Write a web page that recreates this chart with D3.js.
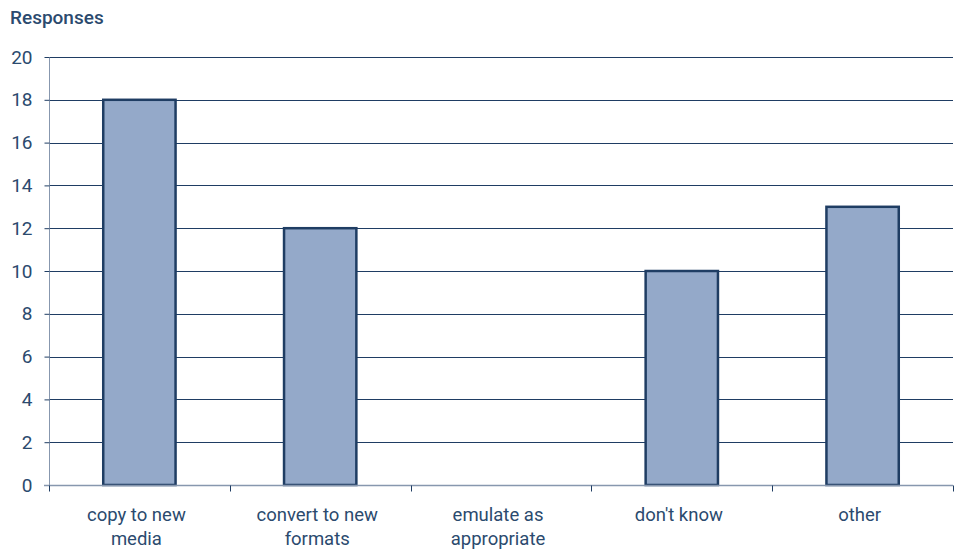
<!DOCTYPE html>
<html><head><meta charset="utf-8">
<script src="https://cdn.jsdelivr.net/npm/d3@7"></script>
<style>body{margin:0;background:#fff}text{font-family:Roboto,"Open Sans",sans-serif}</style>
</head><body>
<svg id="c" width="963" height="549"></svg>
<script>
const categories = [["copy to new","media"],["convert to new","formats"],["emulate as","appropriate"],["don't know"],["other"]];
const values = [18, 12, 0, 10, 13];
const yTicks = [0,2,4,6,8,10,12,14,16,18,20];

const svg = d3.select("#c");
const m = {left:49, right:953, top:57, bottom:485};
const keys = categories.map(c => c.join(" "));
const x = d3.scaleBand().domain(keys).range([m.left, m.right]).paddingInner(0.6).paddingOuter(0.3);
const xb = d3.scaleBand().domain(keys).range([m.left, m.right]).padding(0);
const y = d3.scaleLinear().domain([0,20]).range([m.bottom, m.top]);
const navy = "#1f3d63", grey = "#8797ae", txt = "#2b4a6e";

// gridlines
svg.append("g").selectAll("line").data(yTicks.filter(d=>d>0)).join("line")
  .attr("x1", m.left).attr("x2", m.right)
  .attr("y1", d=>Math.round(y(d))+0.5).attr("y2", d=>Math.round(y(d))+0.5)
  .attr("stroke", navy).attr("stroke-width", 1);

// y axis
const ya = svg.append("g").attr("transform", `translate(${m.left+0.5},0)`)
  .call(d3.axisLeft(y).tickValues(yTicks).tickSize(5).tickPadding(12));
ya.select(".domain").attr("stroke", grey).attr("d", `M0,${m.bottom}V${m.top}`);
ya.selectAll(".tick line").attr("stroke", navy);
ya.selectAll(".tick text").attr("fill", txt).style("font-size","19px").style("font-family","Roboto, sans-serif").style("font-weight","400");

// bars
svg.append("g").selectAll("rect").data(values).join("rect")
  .attr("x", (d,i)=>x(keys[i])).attr("width", x.bandwidth())
  .attr("y", d=>y(d)).attr("height", d=>y(0)-y(d))
  .attr("fill", "#94a9c9").attr("stroke", navy).attr("stroke-width", 2.5)
  .attr("display", d=>d>0?null:"none");

// x axis
const xa = svg.append("g").attr("transform", `translate(0,${m.bottom+0.5})`);
xa.append("line").attr("x1", m.left-5).attr("x2", m.right).attr("stroke", grey).attr("stroke-width",1.5);
const bounds = keys.map(k=>xb(k)).concat([m.right]);
xa.selectAll("line.t").data(bounds).join("line").attr("class","t")
  .attr("x1", d=>Math.round(d)+0.5).attr("x2", d=>Math.round(d)+0.5).attr("y1",0).attr("y2",6).attr("stroke", navy);
const lab = xa.selectAll("text").data(categories).join("text")
  .attr("text-anchor","middle").attr("fill", txt)
  .style("font-size","18.5px").style("font-weight","400")
  .attr("transform",(d,i)=>`translate(${xb(keys[i])+xb.bandwidth()/2-3},35)`);
lab.selectAll("tspan").data(d=>d).join("tspan").attr("x",0).attr("dy",(d,j)=>j?"24":"0").text(d=>d);

// title
svg.append("text").attr("x", 10).attr("y", 24).attr("fill", txt)
  .style("font-size","19px").style("font-weight","500").text("Responses");
</script>
</body></html>
